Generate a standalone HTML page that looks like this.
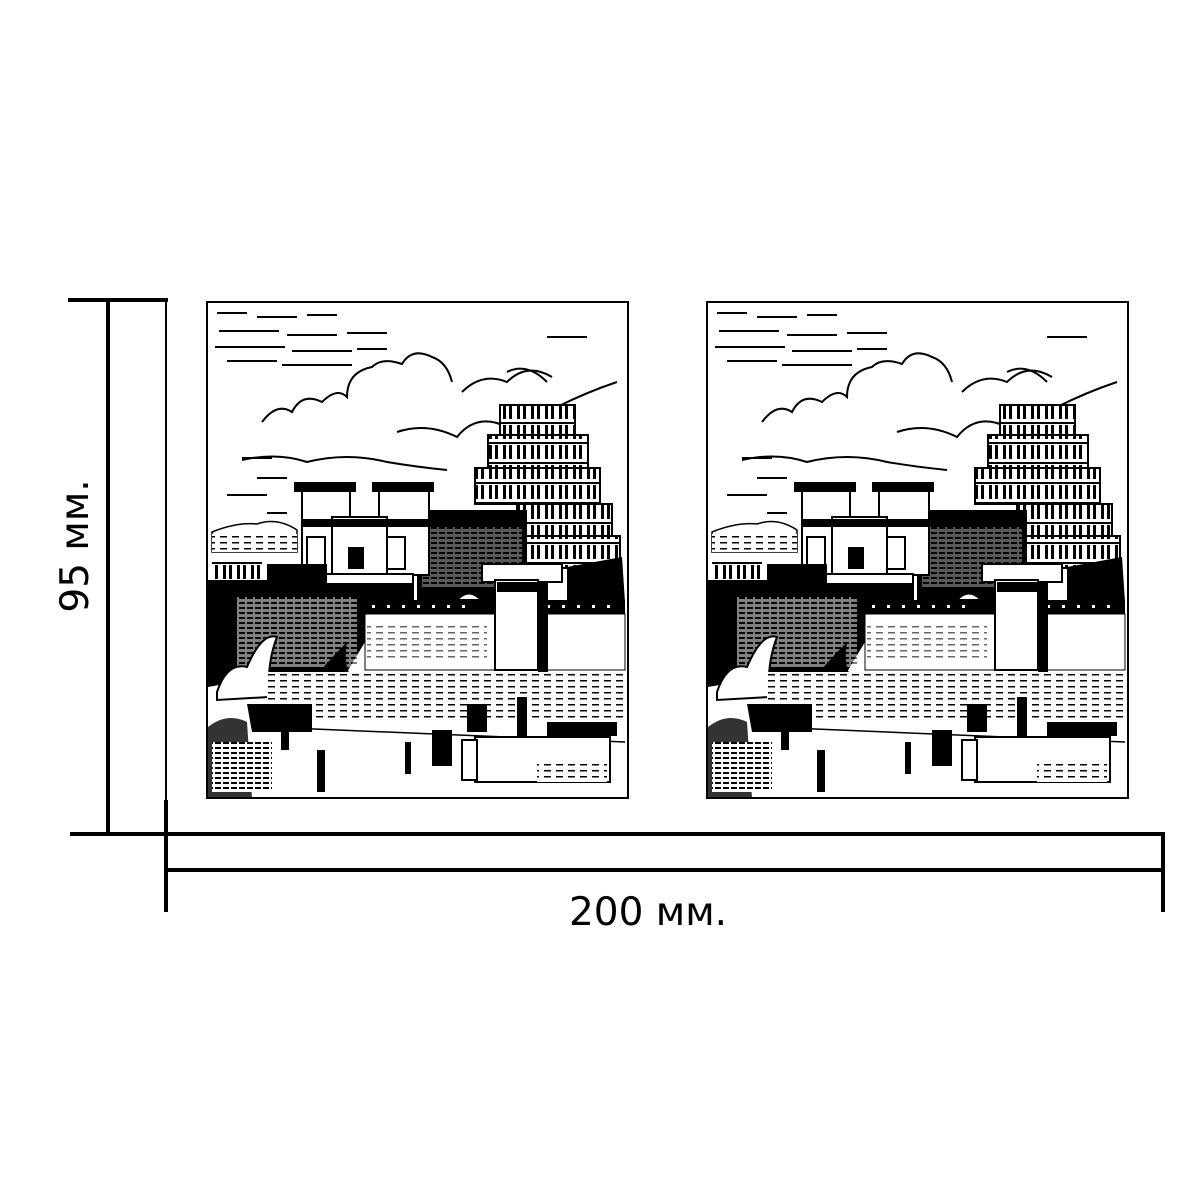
<!DOCTYPE html>
<html><head><meta charset="utf-8"><style>
html,body{margin:0;padding:0;background:#fff;width:1200px;height:1200px;overflow:hidden}
svg{display:block}
</style></head><body>
<svg width="1200" height="1200" viewBox="0 0 1200 1200" xmlns="http://www.w3.org/2000/svg">
<defs>
<pattern id="hh" width="8" height="5" patternUnits="userSpaceOnUse"><rect width="8" height="5" fill="#fff"/><rect width="6" height="2" fill="#000"/></pattern>
<pattern id="hl" width="12" height="6" patternUnits="userSpaceOnUse"><rect width="12" height="6" fill="#fff"/><rect x="1" width="7" height="1.5" fill="#000"/></pattern>
<pattern id="win" width="14" height="20" patternUnits="userSpaceOnUse"><rect width="14" height="20" fill="#fff"/><rect x="2" y="3" width="3" height="14" fill="#000"/><rect x="8" y="3" width="3" height="14" fill="#000"/><rect y="0" width="14" height="2" fill="#000"/></pattern>
<g id="scene">
<rect x="0" y="0" width="421" height="496" fill="#fff" stroke="#000" stroke-width="2"/>
<!-- sky hatching -->
<g fill="#000">
<rect x="10" y="10" width="30" height="2"/><rect x="50" y="14" width="40" height="2"/><rect x="100" y="12" width="30" height="2"/>
<rect x="12" y="28" width="60" height="2"/><rect x="80" y="32" width="50" height="2"/><rect x="140" y="30" width="40" height="2"/>
<rect x="8" y="44" width="70" height="2"/><rect x="85" y="48" width="60" height="2"/><rect x="150" y="46" width="30" height="2"/>
<rect x="20" y="58" width="50" height="2"/><rect x="75" y="62" width="70" height="2"/>
<rect x="340" y="34" width="40" height="2"/>
<rect x="35" y="155" width="30" height="2"/><rect x="50" y="175" width="30" height="2"/><rect x="20" y="192" width="40" height="2"/>
<rect x="60" y="210" width="20" height="2"/>
</g>
<!-- clouds -->
<g fill="none" stroke="#000" stroke-width="2">
<path d="M55 120 Q70 100 85 110 Q95 90 115 100 Q130 85 140 95 Q140 70 165 65 Q175 55 195 62 Q205 45 225 55 Q240 60 245 80"/>
<path d="M255 90 Q275 70 300 80 Q320 60 345 75"/>
<path d="M300 70 Q320 60 340 80"/>
<path d="M190 130 Q220 120 250 135 Q270 110 300 125"/>
<path d="M35 158 Q70 150 100 160 Q140 150 180 160 Q210 165 240 168"/>
<path d="M350 105 Q380 90 410 80"/>
</g>
<!-- mountains -->
<path d="M5 230 Q30 220 50 222 Q70 215 90 228 L90 250 L5 250Z" fill="none" stroke="#000" stroke-width="1.5"/>
<rect x="5" y="232" width="85" height="18" fill="url(#hl)"/>
<!-- tower -->
<rect x="293" y="103" width="75" height="30" fill="url(#win)" stroke="#000" stroke-width="2"/>
<rect x="281" y="133" width="100" height="33" fill="url(#win)" stroke="#000" stroke-width="2"/>
<rect x="268" y="166" width="125" height="36" fill="url(#win)" stroke="#000" stroke-width="2"/>
<rect x="310" y="202" width="95" height="32" fill="url(#win)" stroke="#000" stroke-width="2"/>
<rect x="318" y="234" width="95" height="32" fill="url(#win)" stroke="#000" stroke-width="2"/>
<!-- dark building -->
<rect x="210" y="208" width="110" height="92" fill="#000"/>
<rect x="215" y="225" width="100" height="60" fill="url(#hh)" opacity="0.35"/>
<!-- pylons -->
<g stroke="#000" stroke-width="2" fill="#fff">
<rect x="88" y="181" width="60" height="8" fill="#000"/>
<rect x="95" y="189" width="48" height="84"/>
<rect x="166" y="181" width="60" height="8" fill="#000"/>
<rect x="172" y="189" width="50" height="84"/>
<rect x="125" y="215" width="55" height="58"/>
<rect x="100" y="235" width="18" height="32"/>
<rect x="180" y="235" width="18" height="32"/>
<rect x="142" y="246" width="14" height="20" fill="#000"/>
<rect x="96" y="218" width="126" height="6" fill="#000"/>
</g>
<!-- terrace -->
<rect x="76" y="272" width="130" height="10" fill="#fff" stroke="#000" stroke-width="2"/>
<rect x="76" y="282" width="130" height="20" fill="#fff" stroke="#000" stroke-width="2"/>
<rect x="120" y="282" width="86" height="18" fill="#000"/>
<rect x="275" y="262" width="80" height="18" fill="#fff" stroke="#000" stroke-width="2"/>
<!-- columns left -->
<rect x="5" y="258" width="50" height="20" fill="url(#win)"/>
<!-- left vegetation dark -->
<path d="M1 278 L60 278 L60 262 L120 262 L120 300 L158 300 L158 340 L140 370 L100 380 L60 372 L40 378 L1 385Z" fill="#000"/>
<rect x="30" y="295" width="120" height="70" fill="url(#hh)" opacity="0.5"/>
<!-- long wall -->
<rect x="158" y="298" width="260" height="14" fill="#000"/>
<g fill="#fff"><rect x="165" y="303" width="3" height="3"/><rect x="180" y="303" width="3" height="3"/><rect x="195" y="303" width="3" height="3"/><rect x="210" y="303" width="3" height="3"/><rect x="225" y="303" width="3" height="3"/><rect x="240" y="303" width="3" height="3"/><rect x="255" y="303" width="3" height="3"/><rect x="340" y="303" width="3" height="3"/><rect x="355" y="303" width="3" height="3"/><rect x="370" y="303" width="3" height="3"/><rect x="385" y="303" width="3" height="3"/><rect x="400" y="303" width="3" height="3"/></g>
<rect x="158" y="312" width="260" height="56" fill="#fff" stroke="#000" stroke-width="1"/>
<rect x="160" y="320" width="120" height="40" fill="url(#hl)" opacity="0.6"/>
<!-- gate tower -->
<rect x="288" y="278" width="43" height="90" fill="#fff" stroke="#000" stroke-width="2"/>
<rect x="290" y="280" width="40" height="10" fill="#000"/>
<rect x="331" y="280" width="10" height="90" fill="#000"/>
<!-- dome -->
<path d="M250 298 Q262 285 274 298Z" fill="#fff" stroke="#000" stroke-width="2"/>
<!-- foliage right of tower -->
<path d="M360 265 L415 255 L418 300 L360 298Z" fill="#000"/>
<!-- sphinx & boat -->
<path d="M10 390 Q20 360 40 365 Q55 330 70 335 Q60 360 62 395 L10 398Z" fill="#fff" stroke="#000" stroke-width="2"/>
<path d="M100 385 Q120 360 140 340 Q135 370 150 380 L120 392Z" fill="#000"/>
<!-- water -->
<rect x="60" y="370" width="358" height="50" fill="url(#hl)"/>
<!-- lower left dark -->
<path d="M40 402 L105 402 L105 430 L45 430Z" fill="#000"/>
<path d="M1 425 Q20 410 40 420 L45 496 L1 496Z" fill="#000" opacity="0.8"/>
<rect x="5" y="440" width="60" height="50" fill="url(#hh)"/>
<!-- ground lines -->
<path d="M60 425 L418 440" stroke="#000" stroke-width="1.5"/>
<!-- figures -->
<g fill="#000">
<rect x="74" y="420" width="8" height="28"/><rect x="110" y="448" width="8" height="42"/><rect x="198" y="440" width="6" height="32"/><rect x="225" y="428" width="20" height="36"/>
<rect x="260" y="402" width="20" height="28"/><rect x="310" y="395" width="10" height="40"/><rect x="340" y="420" width="70" height="14"/>
</g>
<!-- platform -->
<rect x="268" y="435" width="135" height="45" fill="#fff" stroke="#000" stroke-width="2"/>
<rect x="255" y="438" width="15" height="40" fill="#fff" stroke="#000" stroke-width="2"/>
<rect x="330" y="458" width="70" height="22" fill="url(#hl)"/>
</g>
</defs>
<use href="#scene" x="207" y="302"/>
<use href="#scene" x="707" y="302"/>
<!-- dimension lines -->
<g fill="#000">
<rect x="68" y="298" width="100" height="4"/>
<rect x="106" y="298" width="4" height="537"/>
<rect x="165" y="300" width="2" height="500"/>
<rect x="164" y="800" width="4" height="112"/>
<rect x="70" y="832" width="1094" height="4"/>
<rect x="166" y="868" width="998" height="4"/>
<rect x="1161" y="832" width="4" height="80"/>
</g>
<text x="648" y="925" font-family="'DejaVu Sans', 'Liberation Sans', sans-serif" font-size="39" text-anchor="middle" fill="#000">200 мм.</text>
<text transform="translate(88,546) rotate(-90)" font-family="'DejaVu Sans', 'Liberation Sans', sans-serif" font-size="39" text-anchor="middle" fill="#000">95 мм.</text>
</svg>
</body></html>
